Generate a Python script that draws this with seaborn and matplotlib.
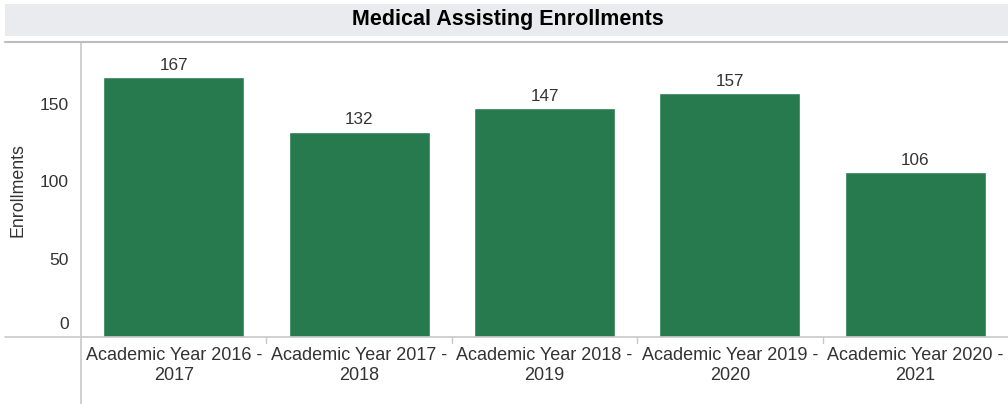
import matplotlib
matplotlib.use("Agg")
import matplotlib.pyplot as plt
import matplotlib.transforms as mtransforms
from matplotlib.patches import Rectangle
from matplotlib.lines import Line2D
import seaborn as sns
import pandas as pd

# data
years = ["Academic Year 2016 -\n2017", "Academic Year 2017 -\n2018",
         "Academic Year 2018 -\n2019", "Academic Year 2019 -\n2020",
         "Academic Year 2020 -\n2021"]
enrollments = [167, 132, 147, 157, 106]
y_ticks = [0, 50, 100, 150]

title = "Medical Assisting Enrollments"
bar_color = "#277A4D"
axis_gray = "#C8C8C8"
text_gray = "#333333"

sns.set_style("white")
plt.rcParams["font.family"] = ["Liberation Sans", "DejaVu Sans"]

W, H = 1008, 404
fig = plt.figure(figsize=(W / 100, H / 100), dpi=100)

# plot area in pixel terms -> figure fractions
left, right, top, bottom = 81, 1008, 43, 337
ax = fig.add_axes([left / W, 1 - bottom / H, (right - left) / W, (bottom - top) / H])

df = pd.DataFrame({"year": years, "enrollments": enrollments})
sns.barplot(data=df, x="year", y="enrollments", color=bar_color, width=0.76,
            saturation=1, ax=ax)
ax.bar_label(ax.containers[0], padding=3, fontsize=12.3, color=text_gray)

ax.set_xlim(-0.5, len(years) - 0.5)
ax.set_ylim(0, 189)
ax.set_yticks(y_ticks)
ax.set_yticklabels([str(t) for t in y_ticks], fontsize=12.5, color=text_gray)
ax.tick_params(axis="y", length=5, color=axis_gray, pad=4)
ax.tick_params(axis="x", length=0, labelsize=13, labelcolor=text_gray, pad=7)
for lab in ax.get_xticklabels():
    lab.set_linespacing(1.25)
zero_lab = ax.yaxis.get_majorticklabels()[0]
zero_lab.set_va("bottom")
zero_lab.set_transform(zero_lab.get_transform() +
                       mtransforms.ScaledTranslation(0, 5 / 100, fig.dpi_scale_trans))
ax.yaxis.get_major_ticks()[0].tick1line.set_visible(False)

ax.set_xlabel("")
ax.set_ylabel("")
for s in ax.spines.values():
    s.set_visible(False)

# category boundary ticks below the axis
for i in range(1, len(years)):
    xf = (left + i * (right - left) / len(years)) / W
    fig.add_artist(Line2D([xf, xf], [1 - bottom / H, 1 - (bottom + 6) / H],
                          color=axis_gray, lw=1))

# axis lines extending past the plot like the dashboard frame
fig.add_artist(Line2D([5 / W, 1], [1 - bottom / H] * 2, color=axis_gray, lw=1.2))
fig.add_artist(Line2D([left / W] * 2, [0, 1 - top / H], color=axis_gray, lw=1.2))
fig.add_artist(Line2D([5 / W, 1], [1 - 42 / H] * 2, color="#BDBDBD", lw=1.5))

# title band
fig.add_artist(Rectangle((5 / W, 1 - 36 / H), 1 - 5 / W, 32 / H,
                         transform=fig.transFigure, color="#EAEBEE", lw=0))
fig.text(508 / W, 1 - 20 / H, title, ha="center", va="center",
         fontsize=15.5, fontweight="bold", color="black")

fig.text(18 / W, 1 - 190 / H, "Enrollments", rotation=90, ha="center",
         va="center", fontsize=12.8, color=text_gray)

fig.savefig("out.png", dpi=100)
